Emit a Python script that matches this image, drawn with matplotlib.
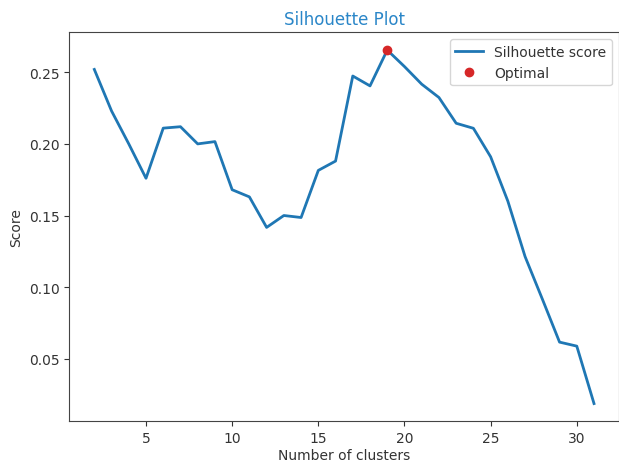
import numpy as np
import matplotlib.pyplot as plt

clusters = list(range(2, 32))
scores = [0.252, 0.223, 0.200, 0.176, 0.211, 0.212, 0.200, 0.2016, 0.168, 0.163,
          0.1417, 0.150, 0.1486, 0.1815, 0.188, 0.2474, 0.2405, 0.2655, 0.254, 0.2417,
          0.2324, 0.2144, 0.2109, 0.191, 0.160, 0.1213, 0.0917, 0.0616, 0.0588, 0.0187]
best_k = 19

plt.rcParams['text.color'] = '#333333'
plt.rcParams['axes.labelcolor'] = '#333333'
plt.rcParams['xtick.color'] = '#333333'
plt.rcParams['ytick.color'] = '#333333'

fig = plt.figure(figsize=(6.19, 4.64), dpi=100)
ax = fig.add_axes([0.112, 0.09, 0.888, 0.838])

ax.plot(clusters, scores, color='#1f77b4', linewidth=2, label='Silhouette score')
ax.plot(best_k, scores[clusters.index(best_k)], 'o', color='#d62728', label='Optimal')

ax.set_title('Silhouette Plot', color='#2a86c8')
ax.set_xlabel('Number of clusters', labelpad=2)
ax.set_ylabel('Score')
ax.set_xticks([5, 10, 15, 20, 25, 30])
ax.set_yticks([0.05, 0.10, 0.15, 0.20, 0.25])
for s in ax.spines.values():
    s.set_color('#444444')
ax.legend(loc='upper right')

plt.savefig('out.png')
plt.close()
